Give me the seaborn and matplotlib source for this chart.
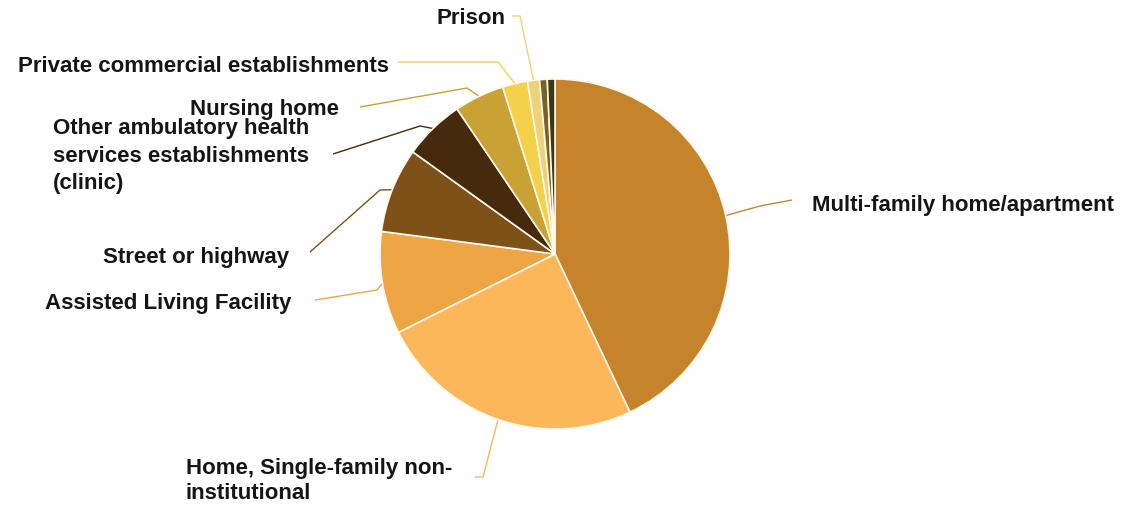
import numpy as np
import matplotlib
matplotlib.use("Agg")
import matplotlib.pyplot as plt
import seaborn as sns

# ---- data (share of deaths by place, %) ----
categories = [
    "Multi-family home/apartment",
    "Home, Single-family non-\ninstitutional",
    "Assisted Living Facility",
    "Street or highway",
    "Other ambulatory health\nservices establishments\n(clinic)",
    "Nursing home",
    "Private commercial establishments",
    "Prison",
    "Other 1",
    "Other 2",
]
values = [42.7, 24.5, 9.4, 7.8, 5.6, 4.6, 2.3, 1.1, 0.7, 0.7]
show_label = [True, True, True, True, True, True, True, True, False, False]
colors = ["#c5842c", "#fbb75a", "#eea545", "#7e5118", "#47290b",
          "#c9a134", "#f4d14a", "#efd278", "#786322", "#3c3614"]

# ---- layout (pixel coordinates, y measured from top) ----
W, H = 1125, 510
CENTER = (555, 255)
RADIUS = 175
# (elbow point, line end, text anchor, ha, linespacing)
label_layout = [
    ((760, 207), (792, 201), (812, 205), "left", 1.2),
    ((483, 478), (475, 478), (452, 481), "right", 1.3),
    ((377, 291), (315, 301), (291, 303), "right", 1.2),
    ((380, 191), (310, 253), (289, 258), "right", 1.2),
    ((420, 127), (333, 155), (309, 156), "right", 1.4),
    ((467, 89), (360, 108), (339, 110), "right", 1.2),
    ((498, 63), (398, 63), (389, 67), "right", 1.2),
    ((520, 17), (512, 17), (506, 18), "right", 1.2),
    None,
    None,
]

sns.set_theme(style="white")
plt.rcParams["font.family"] = ["Liberation Sans", "DejaVu Sans"]

fig = plt.figure(figsize=(W / 100, H / 100), dpi=100)
ax = fig.add_axes([0, 0, 1, 1])


def P(x, y):
    return x, H - y


wedges, _ = ax.pie(
    values,
    colors=colors,
    startangle=90,
    counterclock=False,
    center=P(*CENTER),
    radius=RADIUS,
    wedgeprops=dict(edgecolor="#fff8ec", linewidth=1.2),
    frame=True,
)
ax.set_xlim(0, W)
ax.set_ylim(0, H)
ax.set_aspect("equal")
ax.axis("off")

for w, lab, show, col, lay in zip(wedges, categories, show_label, colors, label_layout):
    if not show or lay is None:
        continue
    mid = np.deg2rad((w.theta1 + w.theta2) / 2)
    cx, cy = P(*CENTER)
    sx, sy = cx + RADIUS * np.cos(mid), cy + RADIUS * np.sin(mid)
    (ex, ey), (lx, ly), (tx, ty), ha, ls = lay
    ax.plot([sx, P(ex, ey)[0], P(lx, ly)[0]],
            [sy, P(ex, ey)[1], P(lx, ly)[1]],
            color=col, lw=1.0, solid_capstyle="butt", zorder=0)
    ax.text(*P(tx, ty), lab, ha=ha, va="center", ma="left",
            fontsize=16, fontweight="bold", color="#151515", linespacing=ls)

fig.savefig("out.png", dpi=100, facecolor="white")
